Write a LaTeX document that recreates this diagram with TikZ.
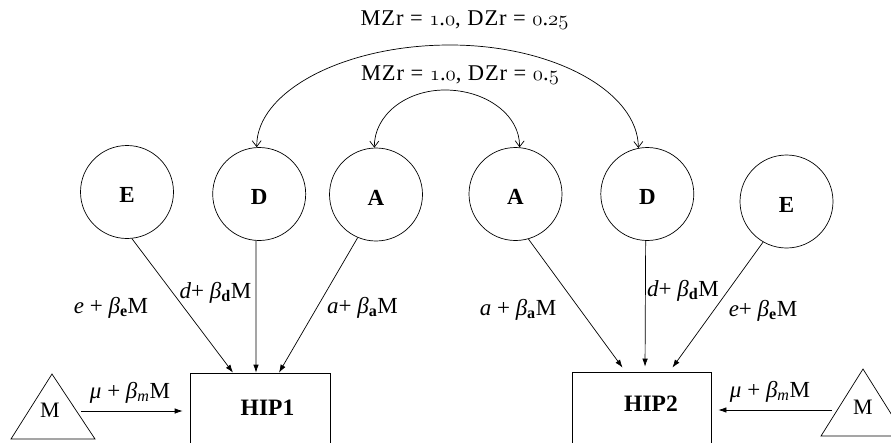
\documentclass[tikz,border=0pt]{standalone}
\usepackage{fontspec}
\setmainfont{Liberation Serif}
\usetikzlibrary{arrows.meta}
\newcommand{\osd}[1]{{\fontencoding{OML}\fontfamily{lmm}\fontseries{m}\fontshape{it}\selectfont #1}}
\begin{document}
\begin{tikzpicture}[x=1pt,y=-1pt, line width=0.7pt,
  latent/.style={circle, draw, minimum size=93pt, inner sep=0pt,
    font=\fontsize{23}{25}\selectfont\bfseries, text height=21pt},
  obs/.style={rectangle, draw, inner sep=0pt},
  hiptext/.style={font=\fontsize{23.5}{25}\selectfont\bfseries, inner sep=0pt},
  mtext/.style={font=\fontsize{22}{24}\selectfont, inner sep=0pt},
  lbl/.style={font=\fontsize{23}{25}\selectfont, anchor=base, inner sep=0pt},
  toplbl/.style={font=\fontsize{22.5}{24}\selectfont\addfontfeatures{LetterSpace=4}, anchor=base, inner sep=0pt},
  arr/.style={-{Latex[length=8pt,width=5.5pt]}},
  dbl/.style={{Straight Barb[length=6pt,width=9pt]}-{Straight Barb[length=6pt,width=9pt]}},
]
\useasboundingbox (0,0) rectangle (891,442);

% latent variables
\node[latent] (E1) at (127,192) {E};
\node[latent] (D1) at (259.2,194) {D};
\node[latent] (A1) at (376,194.5) {A};
\node[latent] (A2) at (515.5,194) {A};
\node[latent] (D2) at (647.3,194) {D};
\node[latent] (E2) at (786.5,201.5) {E};

% observed
\node[obs, minimum width=140pt, minimum height=76pt] (hip1) at (260,411) {};
\node[hiptext] (hip1t) at (267.5,408) {HIP1};
\node[obs, minimum width=139pt, minimum height=76pt] (hip2) at (641.5,410) {};
\node[hiptext] (hip2t) at (651,404) {HIP2};

% moderators
\draw (52,374) -- (95,439) -- (11,439) -- cycle;
\node[mtext] (m1) at (50,410) {M};
\draw (863,369) -- (905,436) -- (821,436) -- cycle;
\node[mtext] (m2) at (863,407) {M};
\coordinate (m1o) at (81,411);
\coordinate (m2o) at (832,410);

% paths into HIP1
\draw[arr] (E1.-84) -- ([xshift=-27pt]hip1.north);
\draw[arr] (D1.-94) -- ([xshift=-4pt]hip1.north);
\draw[arr] (A1.-113) -- ([xshift=19pt]hip1.north);
\draw[arr, shorten >=7pt] (m1o) -- (hip1.west);

% paths into HIP2
\draw[arr, shorten >=5pt] (A2.-74) -- ([xshift=-16pt]hip2.north);
\draw[arr, shorten >=5pt] (D2.-92) -- ([xshift=3.5pt]hip2.north);
\draw[arr, shorten >=5pt] (E2.-120) -- ([xshift=28pt]hip2.north);
\draw[arr, shorten >=7pt] (m2o) -- (hip2.east);

% correlations
\draw[dbl] (D1.93) .. controls (256,92) and (343,45) .. (450,45)
           .. controls (554,45) and (638,92) .. (D2.101);
\draw[dbl] (A1.92) .. controls (374,115) and (406,90) .. (445,90)
           .. controls (486,90) and (520,115) .. (A2.85);

% labels
\node[toplbl] (r1) at (464.5,25) {MZr = \osd{1}.\osd{0}, DZr = \osd{0}.\osd{2}\osd{5}};
\node[toplbl] (r2) at (460,80) {MZr = \osd{1}.\osd{0}, DZr = \osd{0}.\osd{5}};

\node[lbl] (le1) at (111,313) {\textit{e} + \textit{β}\textsubscript{\textbf{e}}M};
\node[lbl] (ld1) at (215.5,298) {\textit{d}+ \textit{β}\textsubscript{\textbf{d}}M};
\node[lbl] (la1) at (362.5,313) {\textit{a}+ \textit{β}\textsubscript{\textbf{a}}M};
\node[lbl] (lm1) at (130,398) {\textit{μ} + \textit{β}\textsubscript{\textit{m}}M};

\node[lbl] (la2) at (518,315) {\textit{a} + \textit{β}\textsubscript{\textbf{a}}M};
\node[lbl] (ld2) at (683,296) {\textit{d}+ \textit{β}\textsubscript{\textbf{d}}M};
\node[lbl] (le2) at (763,316) {\textit{e}+ \textit{β}\textsubscript{\textbf{e}}M};
\node[lbl] (lm2) at (770,397) {\textit{μ} + \textit{β}\textsubscript{\textit{m}}M};
\end{tikzpicture}
\end{document}
